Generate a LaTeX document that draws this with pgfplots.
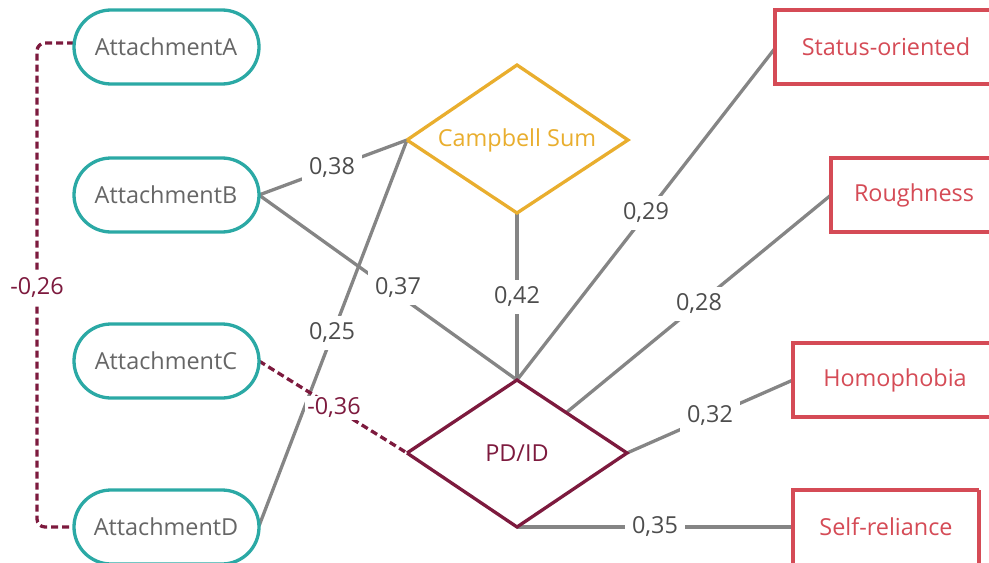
\documentclass[border=0pt]{standalone}
\usepackage{pgfplots}
\pgfplotsset{compat=1.18}
\usepackage{fontspec}
\setmainfont{Open Sans}
\definecolor{attTeal}{HTML}{2BA9A5}
\definecolor{campGold}{HTML}{E9AE2E}
\definecolor{pdRed}{HTML}{7D1A3E}
\definecolor{boxRed}{HTML}{D54B56}
\definecolor{edgeGray}{HTML}{858585}
\definecolor{lblGray}{HTML}{4D4D4D}
\definecolor{attText}{HTML}{666666}
\tikzset{
    edge/.style={edgeGray, line width=3.3bp, mark=none},
    neg/.style={pdRed, line width=3.3bp, mark=none, dash pattern=on 7bp off 4bp},
    lbl/.style={fill=white, text=lblGray, inner sep=7bp},
    txt/.style={font=\fontsize{23.5}{28}\selectfont},
}

\begin{document}
\begin{tikzpicture}
\begin{axis}[
    width=989bp, height=563bp, scale only axis,
    xmin=0, xmax=989, ymin=0, ymax=563,
    y dir=reverse, hide axis, clip=true,
]
% keep the page at full size
\addplot[draw=none] coordinates {(0,0)(989,563)};

% paths (coefficient edges)
\addplot[edge] coordinates {(259,195)(407,140)};
\addplot[edge] coordinates {(259,195)(517,380)};
\addplot[edge] coordinates {(259,526)(407,140)};
\addplot[edge] coordinates {(517,213)(517,380)};
\addplot[edge] coordinates {(517,380)(776,47)};
\addplot[edge] coordinates {(567,412)(831,195)};
\addplot[edge] coordinates {(627,453)(793,380)};
\addplot[edge] coordinates {(517,527)(793,527)};
\addplot[neg, rounded corners=8bp] coordinates {(74,43)(37,43)(37,527)(74,527)};
\addplot[neg] coordinates {(259,361)(407,453)};

% coefficient labels
\node[txt, lbl] at (axis cs:332,168) {0,38};
\node[txt, lbl] at (axis cs:398,288) {0,37};
\node[txt, lbl] at (axis cs:332,333) {0,25};
\node[txt, lbl] at (axis cs:517,297) {0,42};
\node[txt, lbl] at (axis cs:646,213) {0,29};
\node[txt, lbl] at (axis cs:699,304) {0,28};
\node[txt, lbl] at (axis cs:710,416) {0,32};
\node[txt, lbl] at (axis cs:655,527) {0,35};
\node[txt, lbl, text=pdRed, inner sep=5bp] at (axis cs:37,288) {-0,26};
\node[txt, lbl, text=pdRed, inner sep=2bp] at (axis cs:334,408) {-0,36};

% attachment nodes
\addplot[attTeal, line width=3.3bp, fill=white, rounded corners=37bp] coordinates {(166,10)(259,10)(259,84)(74,84)(74,10)(166,10)};
\addplot[attTeal, line width=3.3bp, fill=white, rounded corners=37bp] coordinates {(166,158)(259,158)(259,232)(74,232)(74,158)(166,158)};
\addplot[attTeal, line width=3.3bp, fill=white, rounded corners=37bp] coordinates {(166,324)(259,324)(259,398)(74,398)(74,324)(166,324)};
\addplot[attTeal, line width=3.3bp, fill=white, rounded corners=37bp] coordinates {(166,490)(259,490)(259,564)(74,564)(74,490)(166,490)};
\node[txt, text=attText] at (axis cs:166,47) {AttachmentA};
\node[txt, text=attText] at (axis cs:166,195) {AttachmentB};
\node[txt, text=attText] at (axis cs:166,361) {AttachmentC};
\node[txt, text=attText] at (axis cs:166,527) {AttachmentD};

% diamonds
\addplot[campGold, line width=3.3bp, fill=white] coordinates {(407,140)(517,65)(628,140)(517,213)(407,140)};
\node[txt, text=campGold] at (axis cs:517,140) {Campbell Sum};
\addplot[pdRed, line width=3.3bp, fill=white] coordinates {(407,453)(517,380)(627,453)(517,527)(407,453)};
\node[txt, text=pdRed] at (axis cs:517,453) {PD/ID};

% outcome boxes
\addplot[boxRed, line width=3.3bp, fill=white] coordinates {(1000,10)(775,10)(775,84)(1000,84)};
\addplot[boxRed, line width=3.3bp, fill=white] coordinates {(1000,158)(831,158)(831,232)(1000,232)};
\addplot[boxRed, line width=3.3bp, fill=white] coordinates {(1000,343)(793,343)(793,417)(1000,417)};
\addplot[boxRed, line width=3.3bp, fill=white] coordinates {(979,490)(793,490)(793,570)(979,570)(979,490)};
\node[txt, text=boxRed] at (axis cs:886,47) {Status-oriented};
\node[txt, text=boxRed] at (axis cs:914,195) {Roughness};
\node[txt, text=boxRed] at (axis cs:895,380) {Homophobia};
\node[txt, text=boxRed] at (axis cs:886,527) {Self-reliance};
\end{axis}
\end{tikzpicture}
\end{document}
